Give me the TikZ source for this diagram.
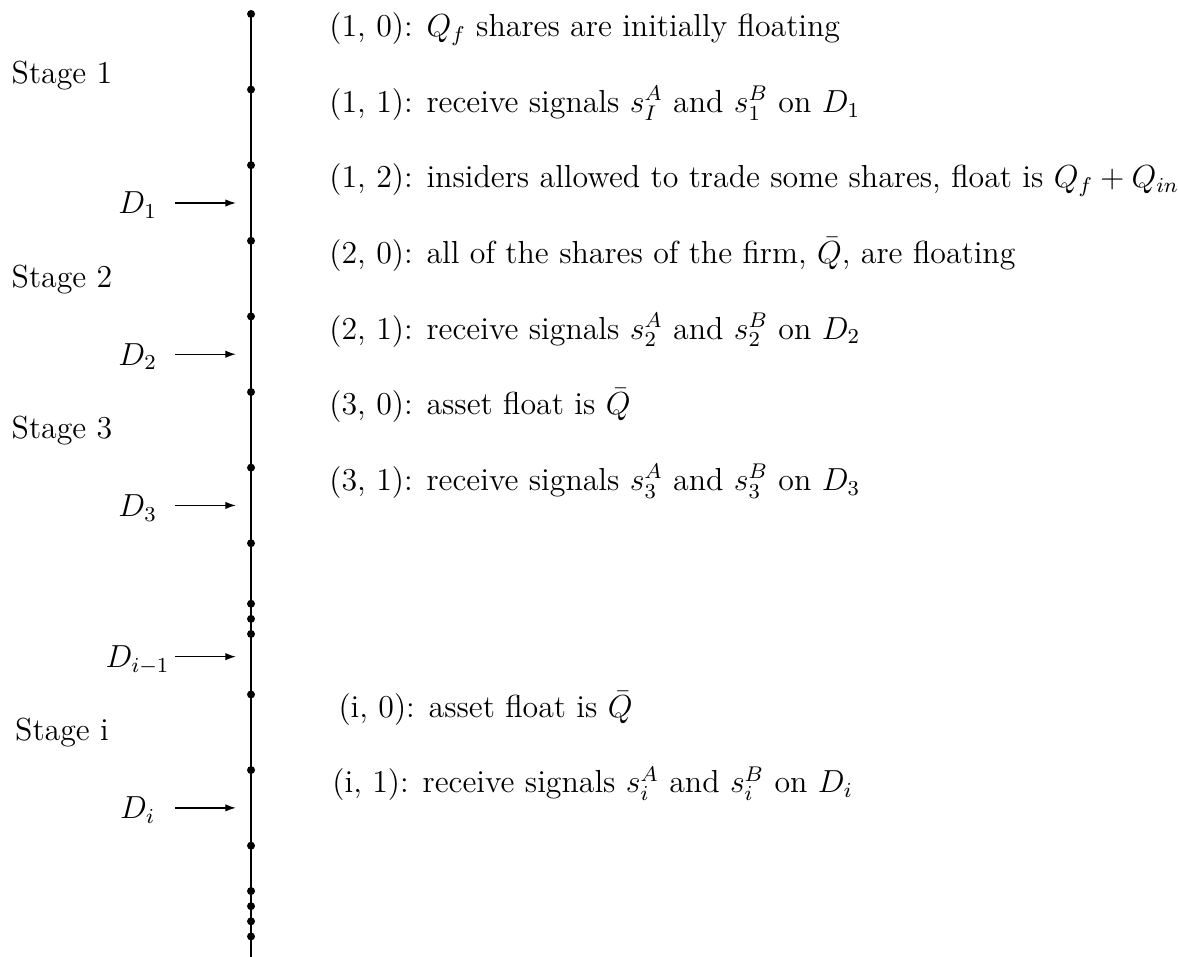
\documentclass[tikz,border=0pt,12pt]{standalone}
\usepackage{amsmath,amssymb}
\usepackage{tikz}
\usetikzlibrary{arrows.meta}

\tikzset{
  tick/.style={circle, fill=black, inner sep=0pt, minimum size=3pt},
  event/.style={anchor=base west, inner sep=0pt},
  stagelabel/.style={anchor=base, inner sep=0pt},
}

\begin{document}
\begin{tikzpicture}[>={Latex[length=4pt, width=2.8pt]}, x=1cm, y=1cm]
  \useasboundingbox (-3.32,0.185) rectangle (12.26,-12.47);

  % Time line with dates
  \foreach \y [count=\i] in {0,1,2,3,4,5,6,7,7.8,8,8.2,9,10,11,11.6,11.8,12,12.2} {
    \node[tick] (p\i) at (0,-\y) {};
  }
  \coordinate (bot) at (0,-12.47);
  \draw[line width=1.1pt] (p1.center) -- (bot);

  % Stages
  \node[stagelabel] (st1) at (-2.5,-0.92) {Stage 1};
  \node[stagelabel] (st2) at (-2.5,-3.62) {Stage 2};
  \node[stagelabel] (st3) at (-2.5,-5.61) {Stage 3};
  \node[stagelabel] (sti) at (-2.5,-9.61) {Stage i};

  % Dividend arrows
  \foreach \y/\lab [count=\i] in {2.5/{$D_1$}, 4.5/{$D_2$}, 6.5/{$D_3$}, 8.5/{$D_{i-1}$}, 10.5/{$D_i$}} {
    \node[stagelabel] (d\i) at (-1.5,-\y-0.145) {\lab};
    \coordinate (a\i) at (-1,-\y);
    \coordinate (b\i) at (-0.2,-\y);
    \draw[->, line width=0.5pt] (a\i) -- (b\i);
  }

  % Events
  \node[event] (e10) at (1.03,-0.3) {(1, 0): $Q_f$ shares are initially floating};
  \node[event] (e11) at (1.03,-1.3) {(1, 1): receive signals $s_I^A$ and $s_1^B$ on $D_1$};
  \node[event] (e12) at (1.03,-2.3) {(1, 2): insiders allowed to trade some shares, float is $Q_f + Q_{in}$};
  \node[event] (e20) at (1.03,-3.3) {(2, 0): all of the shares of the firm, $\bar{Q}$, are floating};
  \node[event] (e21) at (1.03,-4.3) {(2, 1): receive signals $s_2^A$ and $s_2^B$ on $D_2$};
  \node[event] (e30) at (1.03,-5.3) {(3, 0): asset float is $\bar{Q}$};
  \node[event] (e31) at (1.03,-6.3) {(3, 1): receive signals $s_3^A$ and $s_3^B$ on $D_3$};
  \node[event] (ei0) at (1.15,-9.3) {(i, 0): asset float is $\bar{Q}$};
  \node[event] (ei1) at (1.07,-10.3) {(i, 1): receive signals $s_i^A$ and $s_i^B$ on $D_i$};
\end{tikzpicture}
\end{document}
